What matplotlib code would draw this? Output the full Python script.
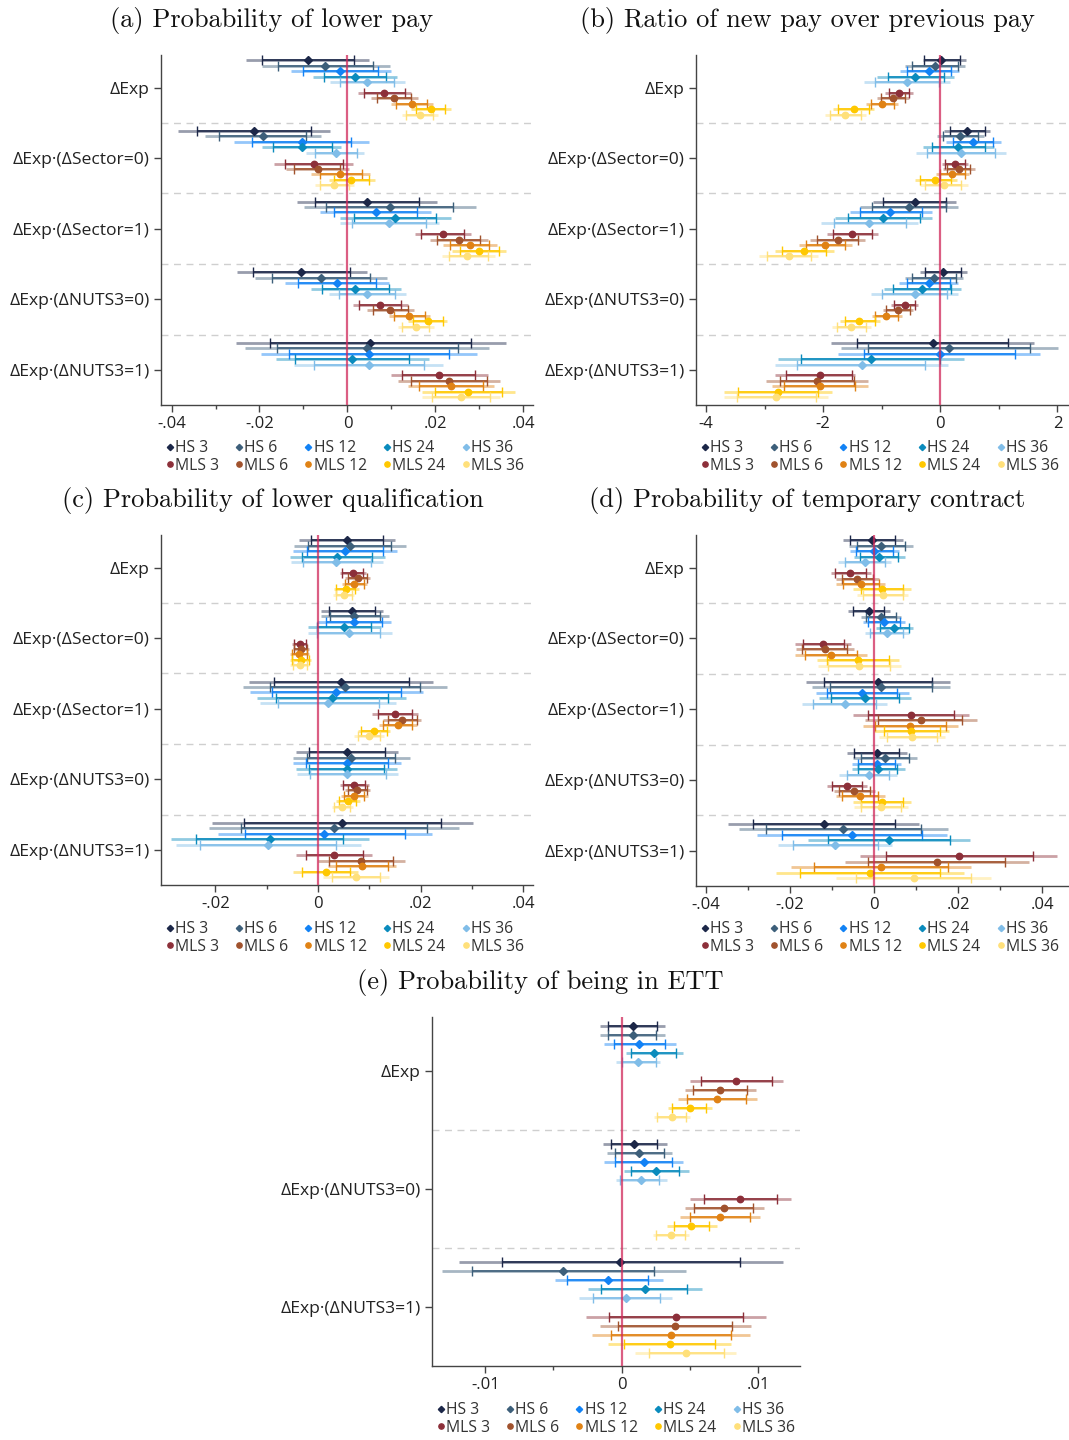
import matplotlib
matplotlib.use("Agg")
import matplotlib.pyplot as plt
from matplotlib.lines import Line2D

plt.rcParams['font.family'] = ['Open Sans', 'DejaVu Sans']

series = ["HS 3", "HS 6", "HS 12", "HS 24", "HS 36",
          "MLS 3", "MLS 6", "MLS 12", "MLS 24", "MLS 36"]
colors = ["#1c2748", "#3d5f7a", "#1282f5", "#0a8bbd", "#80bde8",
          "#8c2f39", "#a0522d", "#e08214", "#ffc800", "#ffe07a"]
markers = ["D"] * 5 + ["o"] * 5

labels5 = ["ΔExp", "ΔExp·(ΔSector=0)", "ΔExp·(ΔSector=1)",
           "ΔExp·(ΔNUTS3=0)", "ΔExp·(ΔNUTS3=1)"]
labels3 = ["ΔExp", "ΔExp·(ΔNUTS3=0)", "ΔExp·(ΔNUTS3=1)"]

# (a) probability of lower pay
a_est = [[-0.0090, -0.0050, -0.0016, 0.0018, 0.0045, 0.0083, 0.0107, 0.0147, 0.0189, 0.0164],
         [-0.0213, -0.0193, -0.0104, -0.0104, -0.0027, -0.0077, -0.0068, -0.0016, 0.0009, -0.0030],
         [0.0044, 0.0096, 0.0064, 0.0108, 0.0095, 0.0217, 0.0253, 0.0278, 0.0299, 0.0273],
         [-0.0105, -0.0061, -0.0023, 0.0018, 0.0044, 0.0074, 0.0097, 0.0141, 0.0183, 0.0155],
         [0.0052, 0.0044, 0.0048, 0.0011, 0.0048, 0.0209, 0.0231, 0.0235, 0.0275, 0.0258]]
a_lo = [[-0.0230, -0.0195, -0.0129, -0.0078, -0.0039, 0.0023, 0.0054, 0.0099, 0.0145, 0.0123],
        [-0.0386, -0.0325, -0.0257, -0.0194, -0.0094, -0.0166, -0.0139, -0.0082, -0.0043, -0.0073],
        [-0.0114, -0.0098, -0.0063, -0.0018, -0.0018, 0.0154, 0.0188, 0.0218, 0.0238, 0.0214],
        [-0.0252, -0.0211, -0.0142, -0.0084, -0.0042, 0.0012, 0.0045, 0.0094, 0.0138, 0.0114],
        [-0.0253, -0.0233, -0.0197, -0.0163, -0.0121, 0.0098, 0.0115, 0.0137, 0.0170, 0.0169]]
a_hi = [[0.0050, 0.0097, 0.0098, 0.0113, 0.0131, 0.0144, 0.0160, 0.0194, 0.0235, 0.0205],
        [-0.0039, -0.0061, 0.0049, -0.0014, 0.0038, 0.0013, 0.0003, 0.0051, 0.0062, 0.0014],
        [0.0203, 0.0292, 0.0191, 0.0235, 0.0208, 0.0280, 0.0319, 0.0339, 0.0360, 0.0335],
        [0.0044, 0.0090, 0.0095, 0.0121, 0.0133, 0.0138, 0.0151, 0.0188, 0.0227, 0.0196],
        [0.0360, 0.0322, 0.0294, 0.0186, 0.0217, 0.0320, 0.0348, 0.0333, 0.0380, 0.0348]]
a_lo90 = [[-0.0195, -0.0159, -0.0100, -0.0053, -0.0017, 0.0037, 0.0067, 0.0111, 0.0156, 0.0133],
          [-0.0342, -0.0292, -0.0217, -0.0169, -0.0074, -0.0143, -0.0121, -0.0063, -0.0030, -0.0062],
          [-0.0073, -0.0049, -0.0031, 0.0014, 0.0011, 0.0168, 0.0203, 0.0234, 0.0255, 0.0230],
          [-0.0214, -0.0171, -0.0113, -0.0057, -0.0020, 0.0027, 0.0058, 0.0105, 0.0149, 0.0123],
          [-0.0175, -0.0161, -0.0134, -0.0119, -0.0077, 0.0125, 0.0145, 0.0162, 0.0198, 0.0193]]
a_hi90 = [[0.0014, 0.0059, 0.0069, 0.0088, 0.0107, 0.0130, 0.0145, 0.0182, 0.0223, 0.0194],
          [-0.0083, -0.0094, 0.0008, -0.0036, 0.0021, -0.0011, -0.0016, 0.0033, 0.0048, 0.0003],
          [0.0162, 0.0241, 0.0158, 0.0202, 0.0179, 0.0264, 0.0302, 0.0323, 0.0344, 0.0319],
          [0.0005, 0.0051, 0.0064, 0.0095, 0.0109, 0.0121, 0.0137, 0.0176, 0.0217, 0.0186],
          [0.0281, 0.0251, 0.0232, 0.0141, 0.0173, 0.0291, 0.0318, 0.0308, 0.0352, 0.0325]]

# (b) ratio of new pay over previous pay
b_est = [[0.02, -0.09, -0.19, -0.43, -0.57, -0.71, -0.81, -1.00, -1.48, -1.63],
         [0.46, 0.34, 0.56, 0.31, 0.36, 0.25, 0.32, 0.20, -0.09, 0.06],
         [-0.44, -0.53, -0.85, -0.97, -1.21, -1.50, -1.75, -1.96, -2.33, -2.59],
         [0.05, -0.11, -0.20, -0.31, -0.44, -0.61, -0.72, -0.92, -1.38, -1.52],
         [-0.13, 0.15, -0.01, -1.18, -1.34, -2.06, -2.10, -2.06, -2.77, -2.80]]
b_lo = [[-0.30, -0.60, -0.69, -1.08, -1.30, -0.94, -1.08, -1.26, -1.83, -1.97],
        [0.06, -0.05, 0.10, -0.30, -0.42, 0.03, 0.05, -0.08, -0.44, -0.34],
        [-1.15, -1.37, -1.54, -1.80, -2.03, -1.93, -2.22, -2.41, -2.83, -3.09],
        [-0.35, -0.61, -0.70, -0.96, -1.18, -0.84, -0.97, -1.17, -1.71, -1.85],
        [-1.86, -1.70, -1.74, -2.77, -2.82, -2.83, -2.98, -2.87, -3.69, -3.69]]
b_hi = [[0.44, 0.42, 0.32, 0.23, 0.16, -0.46, -0.54, -0.73, -1.13, -1.27],
        [0.85, 0.74, 1.03, 0.92, 1.13, 0.48, 0.60, 0.49, 0.28, 0.47],
        [0.27, 0.31, -0.14, -0.14, -0.38, -1.07, -1.29, -1.51, -1.82, -2.08],
        [0.45, 0.38, 0.30, 0.35, 0.30, -0.38, -0.46, -0.65, -1.03, -1.18],
        [1.60, 2.01, 1.71, 0.40, 0.13, -1.46, -1.24, -1.24, -1.84, -1.91]]
b_lo90 = [[-0.27, -0.48, -0.56, -0.90, -1.12, -0.88, -1.01, -1.18, -1.74, -1.88],
          [0.16, 0.05, 0.21, -0.15, -0.22, 0.08, 0.12, -0.01, -0.34, -0.26],
          [-0.97, -1.16, -1.37, -1.58, -1.82, -1.83, -2.10, -2.29, -2.71, -2.96],
          [-0.26, -0.48, -0.57, -0.80, -0.99, -0.79, -0.92, -1.11, -1.63, -1.77],
          [-1.42, -1.23, -1.30, -2.37, -2.45, -2.64, -2.74, -2.67, -3.45, -3.47]]
b_hi90 = [[0.34, 0.30, 0.19, 0.07, -0.02, -0.53, -0.60, -0.79, -1.22, -1.36],
          [0.76, 0.65, 0.90, 0.76, 0.94, 0.42, 0.51, 0.42, 0.19, 0.36],
          [0.09, 0.09, -0.32, -0.35, -0.58, -1.17, -1.40, -1.63, -1.95, -2.20],
          [0.35, 0.26, 0.17, 0.18, 0.11, -0.43, -0.52, -0.72, -1.11, -1.27],
          [1.16, 1.53, 1.27, -0.01, -0.26, -1.50, -1.47, -1.45, -2.08, -2.13]]

# (c) probability of lower qualification
c_est = [[0.0056, 0.0062, 0.0053, 0.0037, 0.0036, 0.0068, 0.0077, 0.0071, 0.0055, 0.0050],
         [0.0066, 0.0071, 0.0070, 0.0051, 0.0061, -0.0036, -0.0034, -0.0037, -0.0034, -0.0036],
         [0.0045, 0.0052, 0.0036, 0.0027, 0.0019, 0.0150, 0.0164, 0.0156, 0.0109, 0.0100],
         [0.0057, 0.0064, 0.0056, 0.0056, 0.0057, 0.0071, 0.0076, 0.0071, 0.0058, 0.0047],
         [0.0047, 0.0031, 0.0012, -0.0094, -0.0097, 0.0032, 0.0084, 0.0086, 0.0015, 0.0074]]
c_lo = [[-0.0038, -0.0046, -0.0048, -0.0055, -0.0053, 0.0042, 0.0053, 0.0047, 0.0031, 0.0030],
        [0.0006, 0.0006, -0.0001, -0.0020, -0.0020, -0.0051, -0.0049, -0.0055, -0.0055, -0.0054],
        [-0.0134, -0.0146, -0.0133, -0.0119, -0.0113, 0.0106, 0.0127, 0.0119, 0.0078, 0.0071],
        [-0.0043, -0.0048, -0.0048, -0.0042, -0.0040, 0.0043, 0.0053, 0.0045, 0.0035, 0.0027],
        [-0.0207, -0.0212, -0.0195, -0.0286, -0.0277, -0.0042, 0.0000, 0.0020, -0.0048, 0.0010]]
c_hi = [[0.0151, 0.0171, 0.0153, 0.0130, 0.0126, 0.0094, 0.0101, 0.0095, 0.0079, 0.0071],
        [0.0127, 0.0138, 0.0142, 0.0122, 0.0144, -0.0021, -0.0018, -0.0018, -0.0013, -0.0018],
        [0.0225, 0.0251, 0.0205, 0.0171, 0.0152, 0.0195, 0.0201, 0.0193, 0.0140, 0.0128],
        [0.0156, 0.0179, 0.0162, 0.0154, 0.0155, 0.0100, 0.0102, 0.0097, 0.0081, 0.0068],
        [0.0303, 0.0274, 0.0222, 0.0099, 0.0083, 0.0106, 0.0169, 0.0152, 0.0078, 0.0138]]
c_lo90 = [[-0.0014, -0.0019, -0.0022, -0.0031, -0.0030, 0.0047, 0.0058, 0.0052, 0.0036, 0.0035],
          [0.0021, 0.0023, 0.0016, -0.0001, -0.0001, -0.0047, -0.0046, -0.0051, -0.0050, -0.0049],
          [-0.0086, -0.0094, -0.0089, -0.0081, -0.0078, 0.0116, 0.0136, 0.0127, 0.0084, 0.0077],
          [-0.0017, -0.0021, -0.0023, -0.0017, -0.0015, 0.0049, 0.0058, 0.0050, 0.0040, 0.0031],
          [-0.0144, -0.0151, -0.0142, -0.0238, -0.0230, -0.0023, 0.0021, 0.0036, -0.0032, 0.0027]]
c_hi90 = [[0.0126, 0.0143, 0.0127, 0.0105, 0.0103, 0.0088, 0.0095, 0.0090, 0.0073, 0.0066],
          [0.0112, 0.0121, 0.0125, 0.0104, 0.0121, -0.0024, -0.0021, -0.0022, -0.0018, -0.0022],
          [0.0178, 0.0199, 0.0161, 0.0136, 0.0118, 0.0184, 0.0192, 0.0184, 0.0134, 0.0121],
          [0.0131, 0.0150, 0.0136, 0.0128, 0.0132, 0.0092, 0.0095, 0.0090, 0.0075, 0.0062],
          [0.0240, 0.0213, 0.0169, 0.0048, 0.0036, 0.0088, 0.0146, 0.0136, 0.0062, 0.0121]]

# (d) probability of temporary contract
d_est = [[-0.0004, 0.0017, 0.0001, 0.0013, -0.0022, -0.0056, -0.0040, -0.0032, 0.0018, 0.0021],
         [-0.0013, 0.0017, 0.0024, 0.0048, 0.0030, -0.0121, -0.0117, -0.0102, -0.0037, -0.0036],
         [0.0010, 0.0017, -0.0028, -0.0021, -0.0070, 0.0088, 0.0111, 0.0086, 0.0089, 0.0090],
         [0.0006, 0.0025, 0.0006, 0.0010, -0.0013, -0.0064, -0.0047, -0.0033, 0.0019, 0.0017],
         [-0.0119, -0.0074, -0.0052, 0.0036, -0.0093, 0.0202, 0.0149, 0.0017, -0.0010, 0.0094]]
d_lo = [[-0.0074, -0.0059, -0.0056, -0.0048, -0.0086, -0.0102, -0.0090, -0.0090, -0.0051, -0.0040],
        [-0.0062, -0.0031, -0.0025, 0.0004, -0.0022, -0.0188, -0.0185, -0.0188, -0.0135, -0.0133],
        [-0.0162, -0.0147, -0.0138, -0.0130, -0.0170, -0.0050, -0.0021, -0.0027, 0.0001, 0.0011],
        [-0.0063, -0.0051, -0.0052, -0.0053, -0.0082, -0.0111, -0.0096, -0.0091, -0.0050, -0.0047],
        [-0.0346, -0.0321, -0.0277, -0.0156, -0.0227, -0.0033, -0.0070, -0.0197, -0.0234, -0.0090]]
d_hi = [[0.0068, 0.0093, 0.0059, 0.0074, 0.0041, -0.0008, 0.0011, 0.0027, 0.0087, 0.0081],
        [0.0037, 0.0063, 0.0074, 0.0092, 0.0082, -0.0055, -0.0048, -0.0017, 0.0060, 0.0063],
        [0.0181, 0.0181, 0.0084, 0.0088, 0.0032, 0.0226, 0.0244, 0.0200, 0.0178, 0.0168],
        [0.0078, 0.0101, 0.0063, 0.0074, 0.0055, -0.0017, 0.0003, 0.0025, 0.0087, 0.0080],
        [0.0108, 0.0175, 0.0173, 0.0229, 0.0043, 0.0436, 0.0368, 0.0230, 0.0215, 0.0279]]
d_lo90 = [[-0.0057, -0.0040, -0.0042, -0.0033, -0.0069, -0.0092, -0.0077, -0.0074, -0.0032, -0.0025],
          [-0.0049, -0.0019, -0.0014, 0.0014, -0.0009, -0.0169, -0.0170, -0.0164, -0.0111, -0.0109],
          [-0.0118, -0.0105, -0.0111, -0.0103, -0.0144, -0.0015, 0.0010, 0.0002, 0.0023, 0.0032],
          [-0.0047, -0.0031, -0.0037, -0.0037, -0.0063, -0.0100, -0.0084, -0.0076, -0.0032, -0.0031],
          [-0.0288, -0.0257, -0.0219, -0.0109, -0.0192, 0.0028, -0.0015, -0.0143, -0.0176, -0.0043]]
d_hi90 = [[0.0051, 0.0074, 0.0044, 0.0058, 0.0025, -0.0020, -0.0002, 0.0012, 0.0069, 0.0068],
          [0.0024, 0.0052, 0.0062, 0.0082, 0.0069, -0.0072, -0.0065, -0.0040, 0.0036, 0.0037],
          [0.0139, 0.0139, 0.0054, 0.0060, 0.0004, 0.0189, 0.0208, 0.0171, 0.0158, 0.0149],
          [0.0060, 0.0082, 0.0050, 0.0055, 0.0036, -0.0029, -0.0010, 0.0010, 0.0070, 0.0063],
          [0.0049, 0.0111, 0.0115, 0.0180, 0.0009, 0.0377, 0.0312, 0.0177, 0.0158, 0.0231]]

# (e) probability of being in ETT
e_est = [[0.0008, 0.0008, 0.0013, 0.0024, 0.0012, 0.0084, 0.0072, 0.0070, 0.0050, 0.0037],
         [0.0009, 0.0013, 0.0016, 0.0025, 0.0014, 0.0087, 0.0075, 0.0072, 0.0051, 0.0036],
         [-0.0001, -0.0043, -0.0010, 0.0017, 0.0003, 0.0040, 0.0039, 0.0036, 0.0035, 0.0047]]
e_lo = [[-0.0016, -0.0016, -0.0013, 0.0003, -0.0004, 0.0050, 0.0046, 0.0041, 0.0034, 0.0024],
        [-0.0014, -0.0011, -0.0013, 0.0002, -0.0004, 0.0050, 0.0046, 0.0043, 0.0033, 0.0023],
        [-0.0119, -0.0132, -0.0049, -0.0025, -0.0031, -0.0026, -0.0016, -0.0022, -0.0010, 0.0010]]
e_hi = [[0.0032, 0.0032, 0.0040, 0.0045, 0.0028, 0.0118, 0.0098, 0.0099, 0.0066, 0.0050],
        [0.0033, 0.0037, 0.0045, 0.0049, 0.0033, 0.0124, 0.0104, 0.0101, 0.0070, 0.0049],
        [0.0118, 0.0047, 0.0030, 0.0059, 0.0037, 0.0106, 0.0095, 0.0094, 0.0080, 0.0084]]
e_lo90 = [[-0.0010, -0.0010, -0.0006, 0.0007, 0.0000, 0.0058, 0.0052, 0.0048, 0.0037, 0.0026],
          [-0.0008, -0.0005, -0.0005, 0.0007, -0.0001, 0.0060, 0.0053, 0.0050, 0.0038, 0.0025],
          [-0.0088, -0.0110, -0.0040, -0.0015, -0.0021, -0.0009, -0.0003, -0.0008, 0.0002, 0.0020]]
e_hi90 = [[0.0026, 0.0025, 0.0032, 0.0040, 0.0025, 0.0110, 0.0092, 0.0091, 0.0062, 0.0047],
          [0.0026, 0.0031, 0.0037, 0.0042, 0.0027, 0.0114, 0.0096, 0.0094, 0.0064, 0.0046],
          [0.0087, 0.0024, 0.0019, 0.0048, 0.0028, 0.0089, 0.0081, 0.0080, 0.0068, 0.0075]]

GAP = 13  # rows between group centres


def row_pos(g, k):
    c = g * GAP
    return c - 5 + k if k < 5 else c + k - 4


def draw_panel(ax, est, lo, hi, lo90, hi90, labels, xlim, majors, majlabels, minors):
    ngr = len(est)
    for g in range(ngr):
        for k in range(10):
            y = row_pos(g, k)
            col = colors[k]
            ax.plot([lo[g][k], hi[g][k]], [y, y], color=col, lw=2.0, alpha=0.45,
                    solid_capstyle='butt', zorder=2)
            ax.plot([lo90[g][k], hi90[g][k]], [y, y], color=col, lw=1.2,
                    solid_capstyle='butt', zorder=3)
            ax.plot([lo90[g][k], hi90[g][k]], [y, y], ls='none', marker='|',
                    ms=7, mew=1.0, color=col, zorder=3)
            ax.plot([est[g][k]], [y], marker=markers[k],
                    ms=3.8 if k < 5 else 4.6, color=col, mec=col, zorder=4)
    for g in range(ngr - 1):
        ax.axhline(g * GAP + 6.5, color='#cfcfcf', lw=1.0, ls=(0, (5, 4)), zorder=1)
    ax.axvline(0, color='#d0285a', lw=1.6, alpha=0.75, zorder=5)

    ax.set_xlim(*xlim)
    ax.set_ylim((ngr - 1) * GAP + 6.45, -6.0)
    ax.set_yticks([g * GAP for g in range(ngr)])
    ax.set_yticklabels(labels)
    ax.set_xticks(majors)
    ax.set_xticklabels(majlabels)
    ax.set_xticks(minors, minor=True)
    for s in ['top', 'right']:
        ax.spines[s].set_visible(False)
    for s in ['left', 'bottom']:
        ax.spines[s].set_color('#444444')
        ax.spines[s].set_linewidth(1.0)
    ax.tick_params(axis='both', which='major', length=5, width=1, color='#444444',
                   labelcolor='#222222')
    ax.tick_params(axis='x', which='major', labelsize=12, pad=3)
    ax.tick_params(axis='y', which='major', labelsize=12.6, pad=3)
    ax.tick_params(axis='x', which='minor', length=3, width=1, color='#444444')


def add_legend(fig, cx, cy):
    handles = []
    for k in range(10):
        handles.append(Line2D([], [], ls='none', marker=markers[k],
                              ms=3.2 if k < 5 else 3.8, color=colors[k], label=series[k]))
    order = [0, 5, 1, 6, 2, 7, 3, 8, 4, 9]
    leg = fig.legend([handles[i] for i in order], [series[i] for i in order],
                     ncol=5, loc='center', bbox_to_anchor=(cx / W, 1 - cy / H),
                     frameon=False, fontsize=11.3, handlelength=0.45, handletextpad=0.12,
                     columnspacing=1.05, labelspacing=0.12, borderaxespad=0)
    for t in leg.get_texts():
        t.set_color('#333333')


W, H = 1069, 1440
fig = plt.figure(figsize=(W / 100, H / 100), dpi=100)


def add_axes_px(left, top, right, bottom):
    return fig.add_axes([left / W, 1 - bottom / H, (right - left) / W, (bottom - top) / H])


ax_a = add_axes_px(161, 55, 533, 405)
ax_b = add_axes_px(696, 55, 1068, 405)
ax_c = add_axes_px(161, 535, 533, 885)
ax_d = add_axes_px(696, 535, 1068, 886)
ax_e = add_axes_px(432, 1017, 800, 1366)

draw_panel(ax_a, a_est, a_lo, a_hi, a_lo90, a_hi90, labels5, (-0.0424, 0.0422),
           [-0.04, -0.02, 0, 0.02, 0.04], ['-.04', '-.02', '0', '.02', '.04'],
           [-0.03, -0.01, 0.01, 0.03])
draw_panel(ax_b, b_est, b_lo, b_hi, b_lo90, b_hi90, labels5, (-4.17, 2.18),
           [-4, -2, 0, 2], ['-4', '-2', '0', '2'], [-3, -1, 1])
draw_panel(ax_c, c_est, c_lo, c_hi, c_lo90, c_hi90, labels5, (-0.0306, 0.0419),
           [-0.02, 0, 0.02, 0.04], ['-.02', '0', '.02', '.04'],
           [-0.01, 0.01, 0.03])
draw_panel(ax_d, d_est, d_lo, d_hi, d_lo90, d_hi90, labels5, (-0.0423, 0.0461),
           [-0.04, -0.02, 0, 0.02, 0.04], ['-.04', '-.02', '0', '.02', '.04'],
           [-0.03, -0.01, 0.01, 0.03])
draw_panel(ax_e, e_est, e_lo, e_hi, e_lo90, e_hi90, labels3, (-0.0139, 0.01306),
           [-0.01, 0, 0.01], ['-.01', '0', '.01'], [-0.005, 0.005])

titles = [("(a) Probability of lower pay", 272, 20),
          ("(b) Ratio of new pay over previous pay", 807, 20),
          ("(c) Probability of lower qualification", 273, 501),
          ("(d) Probability of temporary contract", 807, 501),
          ("(e) Probability of being in ETT", 540, 982)]
for txt, x, y in titles:
    fig.text(x / W, 1 - y / H, txt, family='cmr10', fontsize=19, ha='center', va='center',
             color='#111111')

add_legend(fig, 345, 457)
add_legend(fig, 880, 457)
add_legend(fig, 345, 938)
add_legend(fig, 880, 938)
add_legend(fig, 616, 1419)

fig.savefig("out.png", dpi=100)
